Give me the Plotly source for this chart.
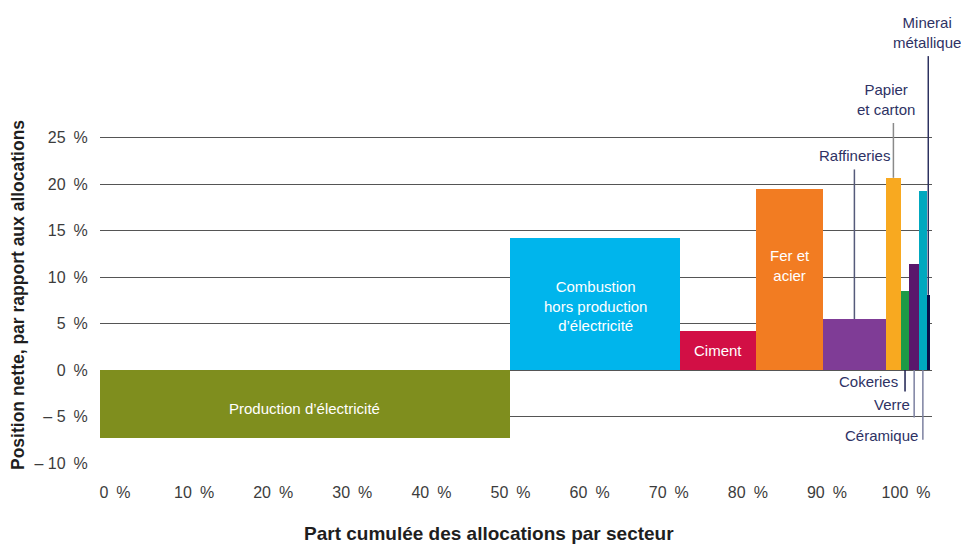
import plotly.graph_objects as go

# Sectors, their share of total allocations (%) and net position (% of allocations)
sectors = [
    "Production d’électricité",
    "Combustion hors production d’électricité",
    "Ciment",
    "Fer et acier",
    "Raffineries",
    "Papier et carton",
    "Cokeries",
    "Verre",
    "Céramique",
    "Minerai métallique",
]
shares = [49.4, 20.5, 9.2, 8.0, 7.6, 1.8, 1.0, 1.2, 0.9, 0.4]
net_position = [-7.3, 14.2, 4.2, 19.5, 5.5, 20.7, 8.5, 11.4, 19.3, 8.1]
colors = ["#7f8e1e", "#00b5ec", "#d20f45", "#f27c22", "#7f3c96",
          "#f8a920", "#1e9a46", "#5a186c", "#00a8bf", "#0b0e48"]

SP = "\u2002"  # wider gap before the percent sign
y_ticks = [-10, -5, 0, 5, 10, 15, 20, 25]
y_ticktext = ["– 10" + SP + "%", "– 5" + SP + "%", "0" + SP + "%", "5" + SP + "%",
              "10" + SP + "%", "15" + SP + "%", "20" + SP + "%", "25" + SP + "%"]
x_ticks = [0, 10, 20, 30, 40, 50, 60, 70, 80, 90, 100]
x_ticktext = [f"{v}{SP}%" for v in x_ticks]

# Bar geometry from cumulative shares
lefts = []
acc = 0.0
for s in shares:
    lefts.append(acc)
    acc += s
centers = [l + s / 2 for l, s in zip(lefts, shares)]

FONT = "Liberation Sans, Arial, sans-serif"
TXT = "#2e3264"
TICK = "#3c3c3c"

fig = go.Figure()
fig.add_trace(go.Bar(
    x=centers, y=net_position, width=shares, base=0,
    marker=dict(color=colors, line=dict(width=0)),
    hoverinfo="text", hovertext=sectors, showlegend=False,
))
# invisible trace carrying the tick-label axis
fig.add_trace(go.Scatter(x=[0, 100], y=[0, 0], xaxis="x2", mode="markers",
                         marker=dict(opacity=0), hoverinfo="skip", showlegend=False))

# Labels written inside the larger bars: (sector index, text, vertical shift px)
inside = [
    (0, "Production d’électricité", -4),
    (1, "Combustion<br>hors production<br>d’électricité", -2),
    (2, "Ciment", 0),
    (3, "Fer et<br>acier", 14),
]
for i, txt, dy in inside:
    fig.add_annotation(x=centers[i], y=net_position[i] / 2, text=txt, showarrow=False,
                       xref="x", yref="y", yshift=dy,
                       font=dict(family=FONT, size=15, color="white"))

# Labels with leader lines: (index, line end value, text, xshift, line colour)
above = [
    (4, 21.6, "Raffineries", 0, "#555a7a"),
    (5, 26.6, "Papier<br>et carton", -7, "#8a8a8a"),
    (9, 33.8, "Minerai<br>métallique", -1, "#2d3160"),
]
for i, yend, txt, dx, lc in above:
    fig.add_shape(type="line", xref="x", yref="y", x0=centers[i], x1=centers[i],
                  y0=net_position[i], y1=yend, line=dict(color=lc, width=1.5))
    fig.add_annotation(x=centers[i], y=yend, text=txt, showarrow=False, xref="x", yref="y",
                       yanchor="bottom", xanchor="center", xshift=dx, yshift=3,
                       font=dict(family=FONT, size=15, color=TXT))

below = [
    (6, -2.3, -1.25, "Cokeries", -5, "#1d2050"),
    (7, -5.1, -3.7, "Verre", -2, "#7c80a0"),
    (8, -7.5, -7.05, "Céramique", -3, "#7c80a0"),
]
for i, yend, ytxt, txt, dx, lc in below:
    fig.add_shape(type="line", xref="x", yref="y", x0=centers[i], x1=centers[i],
                  y0=0, y1=yend, line=dict(color=lc, width=1.5))
    fig.add_annotation(x=centers[i], y=ytxt, text=txt, showarrow=False, xref="x", yref="y",
                       xanchor="right", yanchor="middle", xshift=dx,
                       font=dict(family=FONT, size=15, color=TXT))

# Axis titles
fig.add_annotation(text="<b>Position nette, par rapport aux allocations</b>",
                   xref="paper", yref="paper", x=(18 - 100) / 832, y=(463 - 295) / 463,
                   textangle=-90, showarrow=False, xanchor="center", yanchor="middle",
                   font=dict(family=FONT, size=17.5, color="#1e1e1e"))
fig.add_annotation(text="<b>Part cumulée des allocations par secteur</b>",
                   xref="paper", yref="paper", x=(489 - 100) / 832, y=-(533 - 463) / 463,
                   showarrow=False, xanchor="center", yanchor="middle",
                   font=dict(family=FONT, size=19, color="#1e1e1e"))

fig.update_layout(
    width=961, height=544,
    margin=dict(l=100, r=29, t=0, b=81),
    paper_bgcolor="white", plot_bgcolor="white",
    bargap=0,
    font=dict(family=FONT, size=16, color=TICK),
    xaxis=dict(range=[0, 100.25], showgrid=False, zeroline=False, showticklabels=False,
               showline=False, fixedrange=True),
    xaxis2=dict(overlaying="x", side="bottom", range=[-1.9, 103.28],
                tickvals=x_ticks, ticktext=x_ticktext, ticks="outside", ticklen=15,
                tickcolor="rgba(0,0,0,0)", showgrid=False, zeroline=False, showline=False,
                tickfont=dict(family=FONT, size=16, color=TICK)),
    yaxis=dict(range=[-10, 39.84], tickvals=y_ticks, ticktext=y_ticktext,
               showgrid=True, gridcolor="#555555", gridwidth=1, zeroline=False,
               ticks="outside", ticklen=8, tickcolor="rgba(0,0,0,0)", showline=False,
               tickfont=dict(family=FONT, size=16, color=TICK)),
)

fig.write_html("out.html")
